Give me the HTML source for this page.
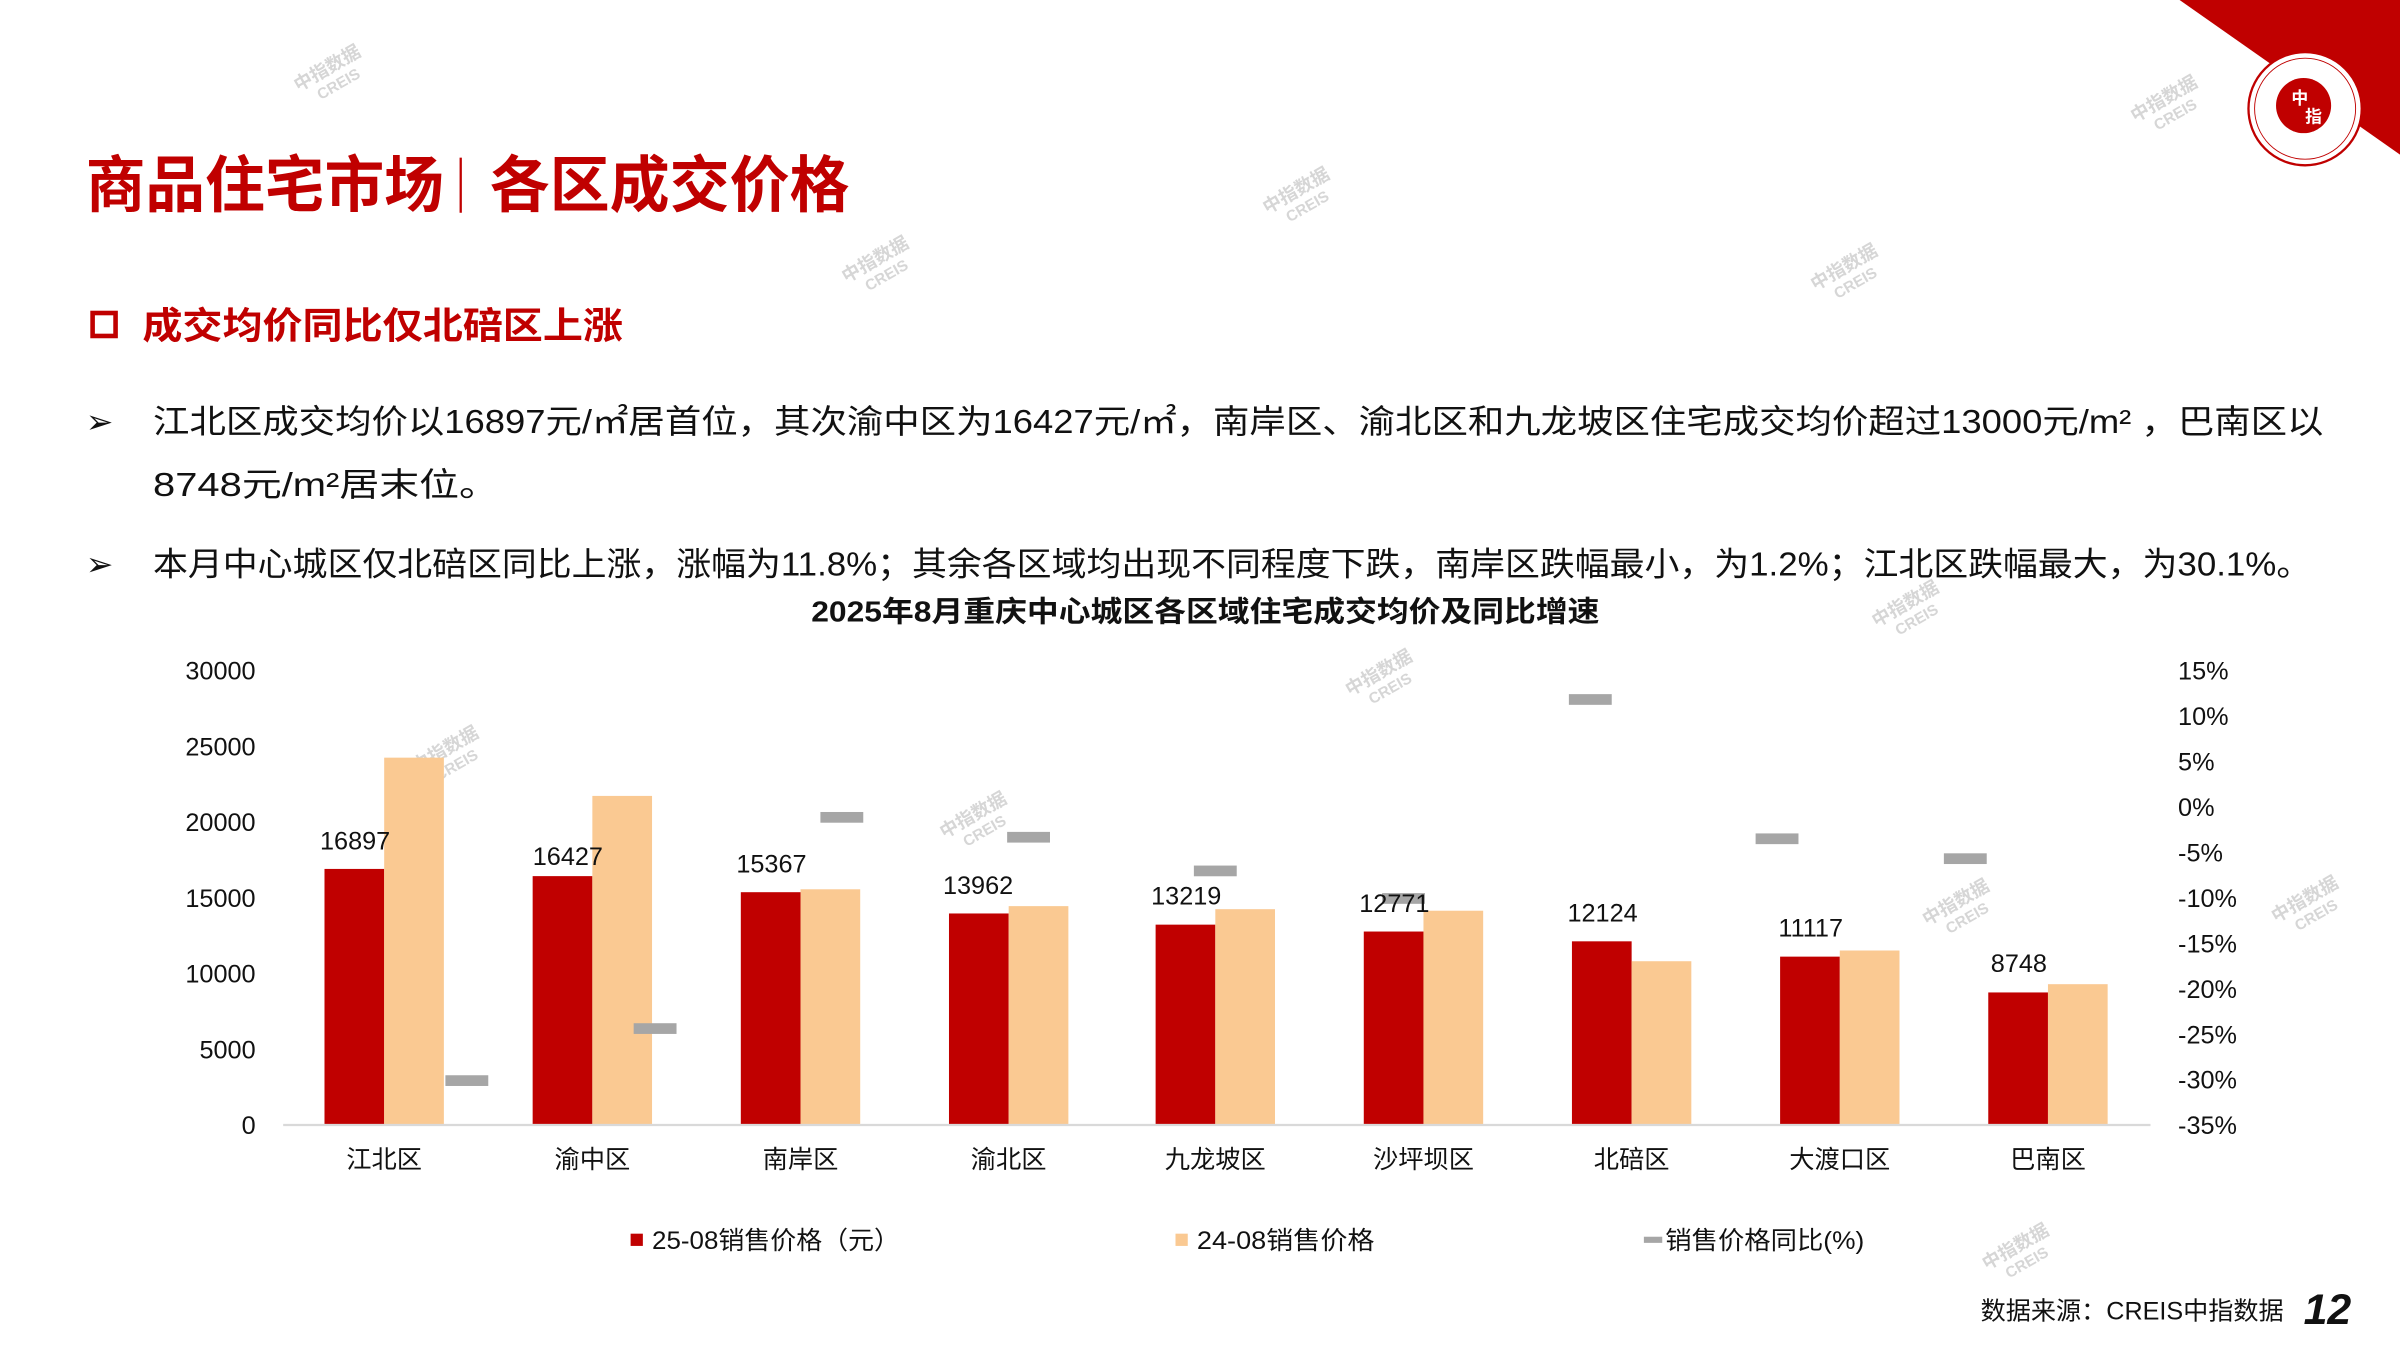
<!DOCTYPE html>
<html><head><meta charset="utf-8"><style>
html,body{margin:0;padding:0;background:#fff;}
svg{display:block;}
text{font-family:"Liberation Sans","Noto Sans CJK SC",sans-serif;}
</style></head><body>
<svg width="2400" height="1350" viewBox="0 0 1568 882" xmlns="http://www.w3.org/2000/svg">
<rect width="1568" height="882" fill="#fff"/>
<!-- watermarks -->
<g fill="#d6d6d6" font-size="12" font-weight="bold">
<g transform="translate(195,60) rotate(-30)"><text>中指数据</text><text x="10" y="12" font-size="10">CREIS</text></g>
<g transform="translate(828,140) rotate(-30)"><text>中指数据</text><text x="10" y="12" font-size="10">CREIS</text></g>
<g transform="translate(553,185) rotate(-30)"><text>中指数据</text><text x="10" y="12" font-size="10">CREIS</text></g>
<g transform="translate(1186,190) rotate(-30)"><text>中指数据</text><text x="10" y="12" font-size="10">CREIS</text></g>
<g transform="translate(1395,80) rotate(-30)"><text>中指数据</text><text x="10" y="12" font-size="10">CREIS</text></g>
<g transform="translate(882,455) rotate(-30)"><text>中指数据</text><text x="10" y="12" font-size="10">CREIS</text></g>
<g transform="translate(272,505) rotate(-30)"><text>中指数据</text><text x="10" y="12" font-size="10">CREIS</text></g>
<g transform="translate(617,548) rotate(-30)"><text>中指数据</text><text x="10" y="12" font-size="10">CREIS</text></g>
<g transform="translate(1259,605) rotate(-30)"><text>中指数据</text><text x="10" y="12" font-size="10">CREIS</text></g>
<g transform="translate(1487,603) rotate(-30)"><text>中指数据</text><text x="10" y="12" font-size="10">CREIS</text></g>
<g transform="translate(1226,410) rotate(-30)"><text>中指数据</text><text x="10" y="12" font-size="10">CREIS</text></g>
<g transform="translate(1298,830) rotate(-30)"><text>中指数据</text><text x="10" y="12" font-size="10">CREIS</text></g>
</g>
<!-- top right -->
<polygon points="1424,0 1568,0 1568,101" fill="#c00000"/>
<circle cx="1506" cy="71" r="37" fill="#fff" stroke="#c00000" stroke-width="1.5"/>
<circle cx="1506" cy="71" r="33" fill="none" stroke="#c00000" stroke-width="0.6"/>
<circle cx="1505" cy="69" r="18" fill="#c00000"/>
<text x="1497" y="68" font-size="11" fill="#fff" font-weight="bold">中</text>
<text x="1506" y="80" font-size="11" fill="#fff" font-weight="bold">指</text>
<!-- title -->
<text x="56" y="135" font-size="40" font-weight="bold" fill="#c00000" textLength="234" lengthAdjust="spacingAndGlyphs">商品住宅市场</text>
<line x1="301" y1="103" x2="301" y2="139" stroke="#c00000" stroke-width="1.5"/>
<text x="320" y="135" font-size="40" font-weight="bold" fill="#c00000" textLength="235" lengthAdjust="spacingAndGlyphs">各区成交价格</text>
<rect x="60.5" y="204.5" width="15" height="15" fill="none" stroke="#c00000" stroke-width="3"/>
<text x="93" y="221" font-size="24" font-weight="bold" fill="#c00000" textLength="314" lengthAdjust="spacingAndGlyphs">成交均价同比仅北碚区上涨</text>
<g font-size="21.5" fill="#111">
<text x="56" y="283">➢</text>
<text x="100" y="283" textLength="1418" lengthAdjust="spacingAndGlyphs">江北区成交均价以16897元/㎡居首位，其次渝中区为16427元/㎡，南岸区、渝北区和九龙坡区住宅成交均价超过13000元/m²  ，巴南区以</text>
<text x="100" y="324" textLength="226" lengthAdjust="spacingAndGlyphs">8748元/m²居末位。</text>
<text x="56" y="376">➢</text>
<text x="100" y="376" textLength="1410" lengthAdjust="spacingAndGlyphs">本月中心城区仅北碚区同比上涨，涨幅为11.8%；其余各区域均出现不同程度下跌，南岸区跌幅最小，为1.2%；江北区跌幅最大，为30.1%。</text>
</g>
<text x="530" y="406" font-size="19" font-weight="bold" fill="#111" textLength="515" lengthAdjust="spacingAndGlyphs">2025年8月重庆中心城区各区域住宅成交均价及同比增速</text>
<!-- axes labels -->
<g font-size="16.5" fill="#111" text-anchor="end">
<text x="167" y="444">30000</text><text x="167" y="493.5">25000</text><text x="167" y="543">20000</text>
<text x="167" y="592.5">15000</text><text x="167" y="642">10000</text><text x="167" y="691.5">5000</text><text x="167" y="741">0</text>
</g>
<g font-size="16.5" fill="#111">
<text x="1423" y="444">15%</text><text x="1423" y="473.7">10%</text><text x="1423" y="503.4">5%</text><text x="1423" y="533.1">0%</text>
<text x="1423" y="562.8">-5%</text><text x="1423" y="592.5">-10%</text><text x="1423" y="622.2">-15%</text><text x="1423" y="651.9">-20%</text>
<text x="1423" y="681.6">-25%</text><text x="1423" y="711.3">-30%</text><text x="1423" y="741">-35%</text>
</g>
<!-- bars -->
<g fill="#c00000">
<rect x="212" y="567.7" width="39" height="167.3"/>
<rect x="348" y="572.4" width="39" height="162.6"/>
<rect x="484" y="582.9" width="39" height="152.1"/>
<rect x="620" y="596.8" width="39" height="138.2"/>
<rect x="755" y="604.1" width="39" height="130.9"/>
<rect x="891" y="608.6" width="39" height="126.4"/>
<rect x="1027" y="615.0" width="39" height="120.0"/>
<rect x="1163" y="625.0" width="39" height="110.0"/>
<rect x="1299" y="648.4" width="39" height="86.6"/>
</g>
<g fill="#fac992">
<rect x="251" y="495" width="39" height="240"/>
<rect x="387" y="520" width="39" height="215"/>
<rect x="523" y="581" width="39" height="154"/>
<rect x="659" y="592" width="39" height="143"/>
<rect x="794" y="594" width="39" height="141"/>
<rect x="930" y="595" width="39" height="140"/>
<rect x="1066" y="628" width="39" height="107"/>
<rect x="1202" y="621" width="39" height="114"/>
<rect x="1338" y="643" width="39" height="92"/>
</g>
<line x1="185" y1="735" x2="1405" y2="735" stroke="#d9d9d9" stroke-width="1.5"/>
<!-- yoy markers -->
<g fill="#a6a6a6">
<rect x="291" y="702.5" width="28" height="7"/>
<rect x="414" y="668.5" width="28" height="7"/>
<rect x="536" y="530.5" width="28" height="7"/>
<rect x="658" y="543.5" width="28" height="7"/>
<rect x="780" y="565.5" width="28" height="7"/>
<rect x="903" y="583.5" width="28" height="7"/>
<rect x="1025" y="453.5" width="28" height="7"/>
<rect x="1147" y="544.5" width="28" height="7"/>
<rect x="1270" y="557.5" width="28" height="7"/>
</g>
<!-- data labels -->
<g font-size="16.5" fill="#111" text-anchor="middle">
<text x="232" y="555">16897</text><text x="371" y="565">16427</text><text x="504" y="570">15367</text>
<text x="639" y="584">13962</text><text x="775" y="591">13219</text><text x="911" y="596">12771</text>
<text x="1047" y="602">12124</text><text x="1183" y="612">11117</text><text x="1319" y="635">8748</text>
</g>
<g font-size="16.5" fill="#111" text-anchor="middle">
<text x="251" y="763">江北区</text><text x="387" y="763">渝中区</text><text x="523" y="763">南岸区</text>
<text x="659" y="763">渝北区</text><text x="794" y="763">九龙坡区</text><text x="930" y="763">沙坪坝区</text>
<text x="1066" y="763">北碚区</text><text x="1202" y="763">大渡口区</text><text x="1338" y="763">巴南区</text>
</g>
<!-- legend -->
<rect x="412" y="806" width="8" height="8" fill="#c00000"/>
<text x="426" y="816" font-size="16.5" fill="#111" textLength="162" lengthAdjust="spacingAndGlyphs">25-08销售价格（元）</text>
<rect x="768" y="806" width="8" height="8" fill="#fac992"/>
<text x="782" y="816" font-size="16.5" fill="#111" textLength="116" lengthAdjust="spacingAndGlyphs">24-08销售价格</text>
<rect x="1074" y="808" width="12" height="4" fill="#a6a6a6"/>
<text x="1088" y="816" font-size="16.5" fill="#111" textLength="130" lengthAdjust="spacingAndGlyphs">销售价格同比(%)</text>
<!-- footer -->
<text x="1294" y="862" font-size="16.5" fill="#111" textLength="198" lengthAdjust="spacingAndGlyphs">数据来源：CREIS中指数据</text>
<text x="1505" y="865" font-size="28" font-weight="bold" font-style="italic" fill="#111">12</text>
</svg>
</body></html>
